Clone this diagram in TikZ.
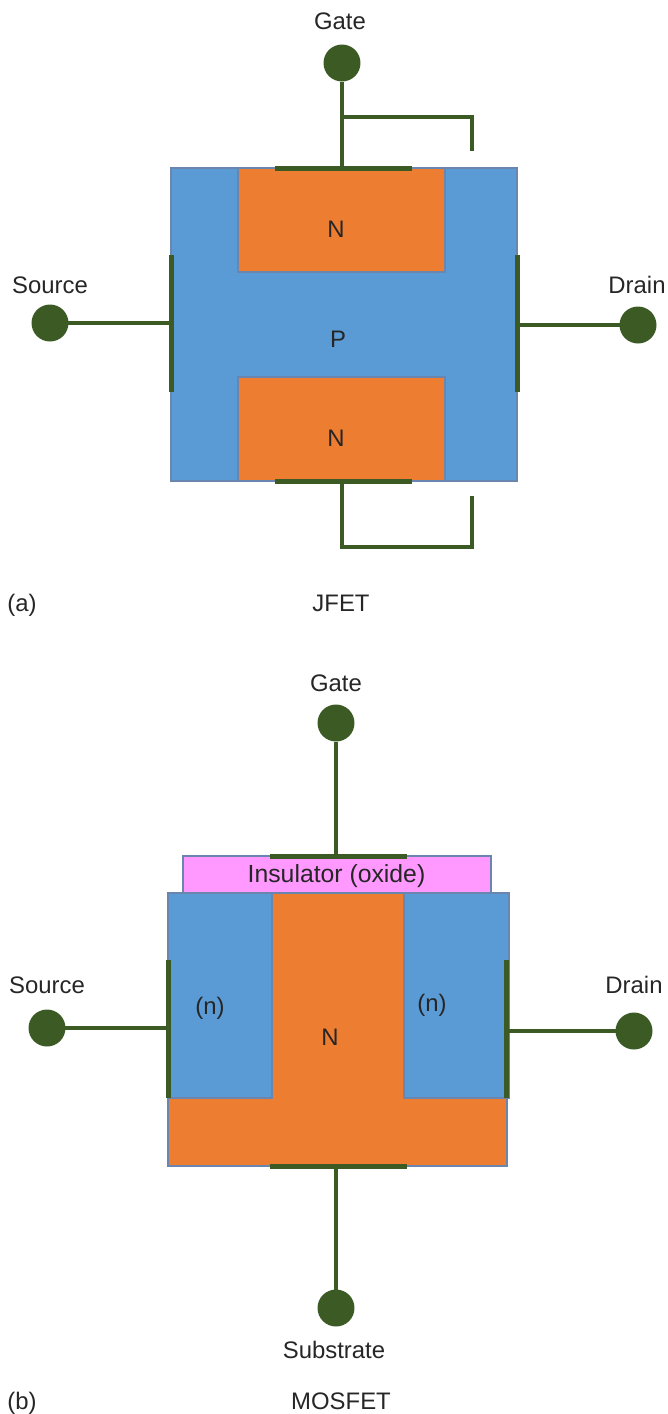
\documentclass[tikz,border=0pt]{standalone}
\usepackage{fontspec}
\setmainfont{Liberation Sans}
\definecolor{bodyblue}{HTML}{5B9BD5}
\definecolor{dopeorange}{HTML}{ED7D31}
\definecolor{oxidepink}{HTML}{FF99FF}
\definecolor{wiregreen}{HTML}{3B5A24}
\definecolor{edgeblue}{HTML}{6A86AE}
\tikzset{
    lbl/.style={font=\fontsize{13.6}{16}\selectfont, text=black!85, inner sep=0pt},
    region/.style={draw=edgeblue, line width=0.8pt, inner sep=0pt, outer sep=0pt},
    pad/.style={circle, fill=wiregreen, minimum size=0.74cm, inner sep=0pt, outer sep=0pt},
    wire/.style={draw=wiregreen, line width=2.7pt},
    hbar/.style={fill=wiregreen, minimum width=2.76cm, minimum height=0.1cm, inner sep=0pt, outer sep=0pt},
    vbar/.style={fill=wiregreen, minimum width=0.1cm, minimum height=2.76cm, inner sep=0pt, outer sep=0pt},
}
\begin{document}
\begin{tikzpicture}[x=0.02cm, y=-0.02cm]
    \useasboundingbox (0, 0) rectangle (668, 1414);

    % JFET
    \node[region, fill=bodyblue, minimum width=6.92cm, minimum height=6.26cm] (jbody) at (344, 324.5) {};
    \node[region, fill=dopeorange, minimum width=4.14cm, minimum height=2.08cm] (jntop) at (341.5, 220) {};
    \node[region, fill=dopeorange, minimum width=4.14cm, minimum height=2.08cm] (jnbot) at (341.5, 429) {};
    \node[lbl] (jntoptxt) at (336, 229) {N};
    \node[lbl] (jptxt) at (338, 339) {P};
    \node[lbl] (jnbottxt) at (336, 438) {N};

    \node[hbar] (jgbar) at (343.5, 168) {};
    \node[hbar] (jbbar) at (343.5, 481) {};
    \node[vbar] (jsbar) at (171, 323.5) {};
    \node[vbar] (jdbar) at (517, 323.5) {};

    \node[pad] (jgate) at (342, 63) {};
    \node[pad] (jsource) at (50, 323) {};
    \node[pad] (jdrain) at (638, 325) {};
    \coordinate (jtopturn) at (342, 117);
    \coordinate (jtopcorner) at (472, 117);
    \coordinate (jtopend) at (472, 151);
    \coordinate (jbotfoot) at (342, 547);
    \coordinate (jbotcorner) at (472, 547);
    \coordinate (jbotend) at (472, 496);

    \draw[wire] (jgate) -- (jgate |- jgbar);
    \draw[wire, line width=2.3pt] (jtopturn) -- (jtopcorner) -- (jtopend);
    \draw[wire] (jsource) -- (jsource -| jsbar);
    \draw[wire] (jdrain) -- (jdrain -| jdbar);
    \draw[wire] (jbotfoot |- jbbar) -- (jbotfoot) -- (jbotcorner) -- (jbotend);

    \node[lbl] (jgatetxt) at (340, 21) {Gate};
    \node[lbl] (jsourcetxt) at (50, 285) {Source};
    \node[lbl] (jdraintxt) at (637, 285) {Drain};
    \node[lbl] (atxt) at (22, 605) {(a)};
    \node[lbl] (jfettxt) at (341, 603) {JFET};

    % MOSFET
    \node[region, fill=oxidepink, minimum width=6.16cm, minimum height=0.74cm] (oxide) at (337, 874.5) {};
    \node[region, fill=dopeorange, minimum width=6.78cm, minimum height=5.46cm] (msub) at (337.5, 1029.5) {};
    \node[region, fill=bodyblue, minimum width=2.08cm, minimum height=4.10cm] (mnleft) at (220, 995.5) {};
    \node[region, fill=bodyblue, minimum width=2.10cm, minimum height=4.10cm] (mnright) at (456.5, 995.5) {};
    \node[lbl, font=\fontsize{14.1}{16}\selectfont] (oxidetxt) at (336.5, 876) {Insulator (oxide)};
    \node[lbl] (mnlefttxt) at (210, 1008) {(n)};
    \node[lbl] (mnrighttxt) at (432, 1005) {(n)};
    \node[lbl] (mntxt) at (330, 1037) {N};

    \node[hbar] (mgbar) at (338.5, 856) {};
    \node[hbar] (mbbar) at (338.5, 1166) {};
    \node[vbar] (msbar) at (168, 1029) {};
    \node[vbar] (mdbar) at (506.5, 1029) {};

    \node[pad] (mgate) at (336, 723) {};
    \node[pad] (msource) at (47, 1028) {};
    \node[pad] (mdrain) at (634, 1031) {};
    \node[pad] (msubstrate) at (336, 1308) {};

    \draw[wire] (mgate) -- (mgate |- mgbar);
    \draw[wire] (msource) -- (msource -| msbar);
    \draw[wire] (mdrain) -- (mdrain -| mdbar);
    \draw[wire] (msubstrate) -- (msubstrate |- mbbar);

    \node[lbl] (mgatetxt) at (336, 683) {Gate};
    \node[lbl] (msourcetxt) at (47, 985) {Source};
    \node[lbl] (mdraintxt) at (634, 985) {Drain};
    \node[lbl] (msubtxt) at (334, 1350) {Substrate};
    \node[lbl] (btxt) at (22, 1403) {(b)};
    \node[lbl] (mosfettxt) at (341, 1401) {MOSFET};
\end{tikzpicture}
\end{document}
